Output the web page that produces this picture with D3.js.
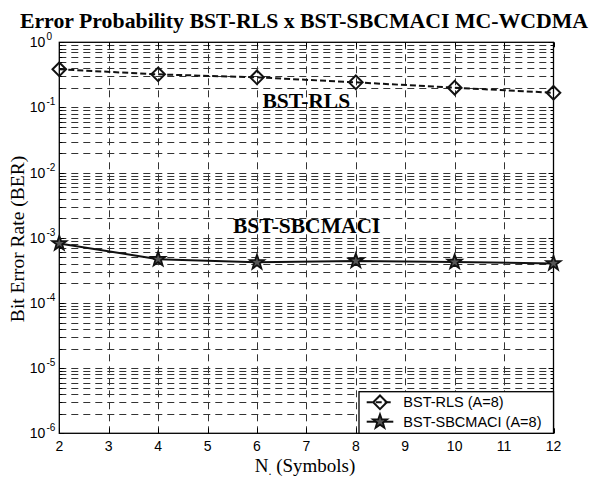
<!DOCTYPE html>
<html>
<head>
<meta charset="utf-8">
<script src="https://cdn.jsdelivr.net/npm/d3@7"></script>
<style>
  html, body { margin: 0; padding: 0; background: #fff; }
  svg { display: block; }
</style>
</head>
<body>
<svg id="chart" width="591" height="479"></svg>
<script>
// ---- data ----
const symbols = [2, 4, 6, 8, 10, 12];
const berRLS = [0.385, 0.322, 0.29, 0.243, 0.201, 0.168];
const berSBCMACI = [8.2e-4, 4.7e-4, 4.2e-4, 4.4e-4, 4.25e-4, 4.05e-4];
const xTicks = [2, 3, 4, 5, 6, 7, 8, 9, 10, 11, 12];
const yExponents = [0, -1, -2, -3, -4, -5, -6];
const seriesNames = ["BST-RLS (A=8)", "BST-SBCMACI (A=8)"];
const titleText = "Error Probability BST-RLS x BST-SBCMACI MC-WCDMA";
const yLabel = "Bit Error Rate (BER)";

// ---- layout ----
const svg = d3.select("#chart");
const L = 59.3, R = 553.5, T = 42.3, B = 433.3;
const x = d3.scaleLinear().domain([2, 12]).range([L, R]);
const y = d3.scaleLog().domain([1e-6, 1]).range([B, T]);

const sans = "'Liberation Sans', Arial, sans-serif";
const serif = "'Liberation Serif', 'Times New Roman', serif";

// grid values
const yMinor = [];
for (let e = -6; e < 0; e++) for (let k = 2; k <= 9; k++) yMinor.push(k * Math.pow(10, e));
const yMajor = yExponents.map(e => Math.pow(10, e));

const grid = svg.append("g").attr("stroke", "#333").attr("stroke-width", 1)
  .attr("stroke-dasharray", "7,5").attr("fill", "none");
grid.selectAll("line.h").data(yMajor.concat(yMinor).filter(v => v > 1e-6 && v < 1)).enter()
  .append("line")
  .attr("x1", L).attr("x2", R)
  .attr("y1", d => Math.round(y(d)) + 0.5).attr("y2", d => Math.round(y(d)) + 0.5);
grid.selectAll("line.v").data(xTicks.slice(1, -1)).enter()
  .append("line")
  .attr("y1", T).attr("y2", B)
  .attr("x1", d => Math.round(x(d)) + 0.5).attr("x2", d => Math.round(x(d)) + 0.5);

// ticks (inside, all four sides)
const ticks = svg.append("g").attr("stroke", "#000").attr("stroke-width", 1);
xTicks.forEach(v => {
  const px = Math.round(x(v)) + 0.5;
  ticks.append("line").attr("x1", px).attr("x2", px).attr("y1", B).attr("y2", B - 5);
  ticks.append("line").attr("x1", px).attr("x2", px).attr("y1", T).attr("y2", T + 5);
});
yMajor.forEach(v => {
  const py = Math.round(y(v)) + 0.5;
  ticks.append("line").attr("x1", L).attr("x2", L + 5).attr("y1", py).attr("y2", py);
  ticks.append("line").attr("x1", R).attr("x2", R - 5).attr("y1", py).attr("y2", py);
});
yMinor.forEach(v => {
  const py = Math.round(y(v)) + 0.5;
  ticks.append("line").attr("x1", L).attr("x2", L + 3).attr("y1", py).attr("y2", py);
  ticks.append("line").attr("x1", R).attr("x2", R - 3).attr("y1", py).attr("y2", py);
});

// box
svg.append("rect").attr("x", L).attr("y", T).attr("width", R - L).attr("height", B - T)
  .attr("fill", "none").attr("stroke", "#000").attr("stroke-width", 1.3);

// x tick labels
svg.append("g").selectAll("text").data(xTicks).enter().append("text")
  .attr("x", d => x(d)).attr("y", B + 18)
  .attr("text-anchor", "middle").attr("font-family", sans).attr("font-size", 14)
  .text(d => d);

// y tick labels
yExponents.forEach(e => {
  const t = svg.append("text").attr("x", 29.8).attr("y", y(Math.pow(10, e)) + 5)
    .attr("font-family", sans).attr("font-size", 14).attr("fill", "#000");
  t.append("tspan").text("10");
  t.append("tspan").attr("dy", -7).attr("dx", 1).attr("font-size", 10).text(e === 0 ? "0" : "-" + Math.abs(e));
});

// series
const starPath = (r) => {
  const pts = [];
  for (let i = 0; i < 10; i++) {
    const rr = i % 2 === 0 ? r : r * 0.4;
    const a = -Math.PI / 2 + i * Math.PI / 5;
    pts.push([rr * Math.cos(a), rr * Math.sin(a)]);
  }
  return "M" + pts.map(p => p.join(",")).join("L") + "Z";
};
const diamondPath = (r) => `M0,${-r}L${r},0L0,${r}L${-r},0Z`;

const lineGen = (vals) => d3.line().x((d, i) => x(symbols[i])).y(d => y(d))(vals);

svg.append("path").attr("d", lineGen(berRLS)).attr("fill", "none")
  .attr("stroke", "#111").attr("stroke-width", 2).attr("stroke-dasharray", "6,3");
svg.append("path").attr("d", lineGen(berSBCMACI)).attr("fill", "none")
  .attr("stroke", "#111").attr("stroke-width", 2);

svg.append("g").selectAll("path").data(berRLS).enter().append("path")
  .attr("transform", (d, i) => `translate(${x(symbols[i])},${y(d)})`)
  .attr("d", diamondPath(6.8)).attr("fill", "none").attr("stroke", "#111").attr("stroke-width", 2);
svg.append("g").selectAll("path").data(berSBCMACI).enter().append("path")
  .attr("transform", (d, i) => `translate(${x(symbols[i])},${y(d)})`)
  .attr("d", starPath(7.5)).attr("fill", "#555").attr("stroke", "#111").attr("stroke-width", 1.8);

// annotations
svg.append("text").attr("x", 306.3).attr("y", 107.7).attr("text-anchor", "middle")
  .attr("font-family", serif).attr("font-weight", "bold").attr("font-size", 21.5).text("BST-RLS");
svg.append("text").attr("x", 306.7).attr("y", 233.3).attr("text-anchor", "middle")
  .attr("font-family", serif).attr("font-weight", "bold").attr("font-size", 21.5).text("BST-SBCMACI");

// title
svg.append("text").attr("x", 304).attr("y", 27.5).attr("text-anchor", "middle")
  .attr("font-family", serif).attr("font-weight", "bold").attr("font-size", 21.8).text(titleText);

// axis labels
const xl = svg.append("text").attr("x", 305).attr("y", 471.5).attr("text-anchor", "middle")
  .attr("font-family", serif).attr("font-size", 19);
xl.append("tspan").text("N");
xl.append("tspan").attr("dy", 3).attr("font-size", 12).text(".");
xl.append("tspan").attr("dy", -3).text(" (Symbols)");

svg.append("text").attr("transform", "translate(23.5,239) rotate(-90)")
  .attr("text-anchor", "middle").attr("font-family", serif).attr("font-size", 19.5).text(yLabel);

// legend
const lg = svg.append("g");
const lx = 359, ly = 391.7, lw = R - 359, lh = B - 391.7;
lg.append("rect").attr("x", lx).attr("y", ly).attr("width", lw).attr("height", lh)
  .attr("fill", "#fff").attr("stroke", "#000").attr("stroke-width", 1.3);
const rows = [402.3, 421.7];
lg.append("line").attr("x1", 366.7).attr("x2", 393.3).attr("y1", rows[0]).attr("y2", rows[0])
  .attr("stroke", "#111").attr("stroke-width", 2).attr("stroke-dasharray", "6,3");
lg.append("path").attr("transform", `translate(380,${rows[0]})`).attr("d", diamondPath(6.8))
  .attr("fill", "none").attr("stroke", "#111").attr("stroke-width", 2);
lg.append("line").attr("x1", 366.7).attr("x2", 393.3).attr("y1", rows[1]).attr("y2", rows[1])
  .attr("stroke", "#111").attr("stroke-width", 2);
lg.append("path").attr("transform", `translate(380,${rows[1]})`).attr("d", starPath(7.5))
  .attr("fill", "#555").attr("stroke", "#111").attr("stroke-width", 1.8);
seriesNames.forEach((n, i) => {
  lg.append("text").attr("x", 403.3).attr("y", rows[i] + 5).attr("font-family", sans)
    .attr("font-size", 14.5).text(n);
});
</script>
</body>
</html>
